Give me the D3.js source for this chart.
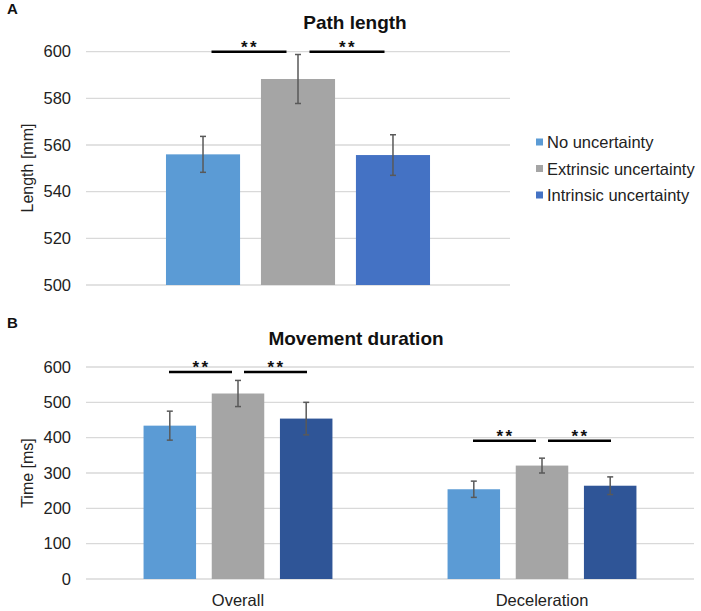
<!DOCTYPE html>
<html><head><meta charset="utf-8">
<script src="https://cdn.jsdelivr.net/npm/d3@7"></script>
<style>body{margin:0;background:#fff}svg{display:block;font-family:"Liberation Sans",Arial,sans-serif}</style>
</head><body><svg id="c" width="701" height="611"></svg>
<script>
// ---- data ----
const series = ["No uncertainty", "Extrinsic uncertainty", "Intrinsic uncertainty"];
const pathGroups = ["Path length"];
const pathMeans = [[556, 588.3, 555.7]];
const pathErrs  = [[7.7, 10.5, 8.7]];
const pathTicks = [500, 520, 540, 560, 580, 600];
const pathSig = [600];
const durGroups = ["Overall", "Deceleration"];
const durMeans = [[434, 525, 454], [254, 321, 264]];
const durErrs  = [[41, 37, 46], [23, 21, 25]];
const durTicks = [0, 100, 200, 300, 400, 500, 600];
const durSig = [586, 391];
const colorsA = ["#5B9BD5", "#A5A5A5", "#4472C4"];
const colorsB = ["#5B9BD5", "#A5A5A5", "#2F5597"];

const svg = d3.select("#c");

function panel(opt){
  const g = svg.append("g");
  const y = d3.scaleLinear().domain(opt.domain).range(opt.yr);
  const x0 = d3.scaleBand().domain(opt.groups).range(opt.xr).paddingInner(0).paddingOuter(0);
  const x1 = d3.scaleBand().domain(series).range([0, x0.bandwidth()]).paddingInner(opt.pi).paddingOuter(opt.po);
  // gridlines
  g.selectAll(".grid").data(opt.ticks).join("line")
    .attr("x1", opt.xr[0]).attr("x2", opt.xr[1])
    .attr("y1", d => y(d)).attr("y2", d => y(d))
    .attr("stroke", "#d9d9d9").attr("stroke-width", 1.3);
  // axis
  const ax = d3.axisLeft(y).tickValues(opt.ticks).tickSize(0).tickPadding(0);
  const axg = g.append("g").attr("transform", `translate(${opt.labelX},0)`).call(ax);
  axg.select(".domain").remove();
  axg.selectAll("text").attr("font-size", 16.5).attr("fill", "#222").attr("font-family", "Liberation Sans, Arial, sans-serif");
  // axis title
  g.append("text").attr("transform", `translate(${opt.titleX},${opt.titleY}) rotate(-90)`)
    .attr("text-anchor", "middle").attr("font-size", 16).attr("fill", "#222").text(opt.yTitle);
  // bars
  opt.groups.forEach((grp, gi) => {
    const gg = g.append("g").attr("transform", `translate(${x0(grp)},0)`);
    const data = series.map((s, i) => ({s, i, v: opt.means[gi][i], e: opt.errs[gi][i]}));
    gg.selectAll("rect").data(data).join("rect")
      .attr("x", d => x1(d.s)).attr("width", x1.bandwidth())
      .attr("y", d => y(d.v)).attr("height", d => y(opt.domain[0]) - y(d.v))
      .attr("fill", d => opt.colors[d.i]);
    const eb = gg.selectAll(".eb").data(data).join("g");
    const cx = d => x1(d.s) + x1.bandwidth() / 2;
    eb.append("line").attr("x1", cx).attr("x2", cx).attr("y1", d => y(d.v + d.e)).attr("y2", d => y(d.v - d.e))
      .attr("stroke", "#595959").attr("stroke-width", 1.5);
    [1, -1].forEach(sg => eb.append("line").attr("x1", d => cx(d) - 3).attr("x2", d => cx(d) + 3)
      .attr("y1", d => y(d.v + sg * d.e)).attr("y2", d => y(d.v + sg * d.e))
      .attr("stroke", "#595959").attr("stroke-width", 1.5));
    // significance
    const mid = x1(series[1]) + x1.bandwidth() / 2;
    const sy = y(opt.sig[gi]);
    [[mid - opt.gap / 2 - opt.len, mid - opt.gap / 2], [mid + opt.gap / 2, mid + opt.gap / 2 + opt.len]].forEach(([a, b]) => {
      gg.append("line").attr("x1", a).attr("x2", b).attr("y1", sy).attr("y2", sy)
        .attr("stroke", "#000").attr("stroke-width", 2.5);
      gg.append("text").attr("x", (a + b) / 2 + 1).attr("y", sy + 1.5).attr("text-anchor", "middle")
        .attr("font-size", 17).attr("font-weight", "bold").attr("letter-spacing", 2.5).attr("fill", "#111").text("**");
    });
  });
  // group labels
  if (opt.showGroupLabels) {
    g.selectAll(".gl").data(opt.groups).join("text")
      .attr("x", d => x0(d) + x0.bandwidth() / 2).attr("y", opt.glY).attr("text-anchor", "middle")
      .attr("font-size", 16.5).attr("fill", "#222").text(d => d);
  }
  // chart title
  g.append("text").attr("x", opt.headX).attr("y", opt.headY).attr("text-anchor", "middle")
    .attr("font-size", 19).attr("font-weight", "bold").attr("fill", "#111").text(opt.head);
  g.append("text").attr("x", 7).attr("y", opt.letterY).attr("font-size", 15).attr("font-weight", "bold").attr("fill", "#111").text(opt.letter);
}

panel({groups: pathGroups, means: pathMeans, errs: pathErrs, ticks: pathTicks, sig: pathSig,
  domain: [500, 600], yr: [285, 51.7], xr: [86, 510], pi: 0.22, po: 0.842, colors: colorsA,
  labelX: 71, titleX: 33, titleY: 168, yTitle: "Length [mm]", gap: 23, len: 75,
  showGroupLabels: false, head: "Path length", headX: 355, headY: 29, letter: "A", letterY: 14});

panel({groups: durGroups, means: durMeans, errs: durErrs, ticks: durTicks, sig: durSig,
  domain: [0, 600], yr: [579, 367], xr: [86, 694], pi: 0.23, po: 0.844, colors: colorsB,
  labelX: 71, titleX: 33, titleY: 473, yTitle: "Time [ms]", gap: 12, len: 63,
  showGroupLabels: true, glY: 606, head: "Movement duration", headX: 356, headY: 345, letter: "B", letterY: 328});

// legend
const lg = svg.append("g").attr("transform", "translate(536,142)");
const li = lg.selectAll("g").data(series).join("g").attr("transform", (d, i) => `translate(0,${i * 26.5})`);
li.append("rect").attr("x", 0).attr("y", -3.5).attr("width", 7).attr("height", 7).attr("fill", (d, i) => colorsA[i]);
li.append("text").attr("x", 11).attr("y", 6).attr("font-size", 16.5).attr("fill", "#222").text(d => d);
</script></body></html>
